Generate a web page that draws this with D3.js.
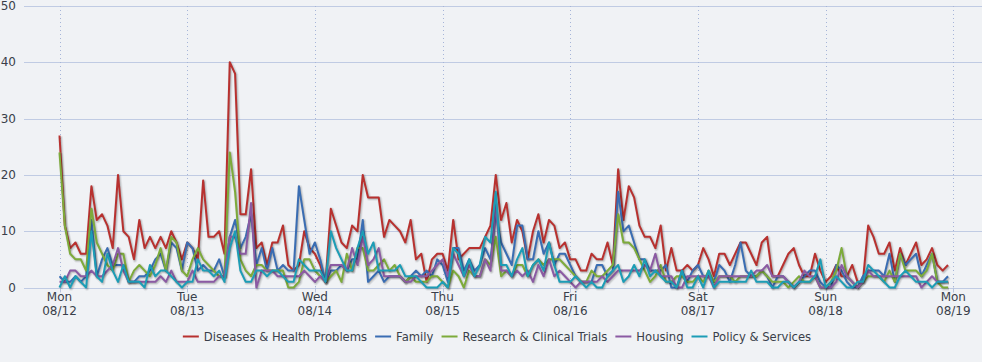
<!DOCTYPE html>
<meta charset="utf-8">
<style>

body {
  margin: 0;
  background: #f0f2f5;
}

svg {
  display: block;
  font-family: "DejaVu Sans", sans-serif;
}

.grid line {
  stroke: #c0cbe3;
  stroke-width: 1;
}

.vgrid line {
  stroke: #a6b5d8;
  stroke-dasharray: 1,3;
}

.line {
  fill: none;
  stroke-width: 2;
  stroke-linejoin: round;
}

.shadow {
  fill: none;
  stroke: #000;
  stroke-linejoin: round;
}

.label {
  fill: #3a3f4a;
  font-size: 12px;
}

</style>
<svg width="982" height="362"></svg>
<script src="https://d3js.org/d3.v7.min.js"></script>
<script>

var names = ["Diseases & Health Problems", "Family", "Research & Clinical Trials", "Housing", "Policy & Services"];
var colors = ["#b8312f", "#3a6db3", "#7dab3a", "#8b5aa3", "#1c9db6"];

var yTicks = [0, 10, 20, 30, 40, 50];

// hourly counts, Mon 08/12 00:00 .. Sun 08/18 23:00
var diseases = [
  27, 11, 7, 8, 6, 6, 18, 12, 13, 11, 7, 20, 10, 9, 5, 12, 7, 9, 7, 9, 7, 10, 8, 5,
  8, 7, 5, 19, 9, 9, 10, 6, 40, 38, 13, 13, 21, 7, 8, 4, 8, 8, 11, 4, 3, 4, 10, 7,
  6, 4, 1, 14, 11, 8, 7, 11, 10, 20, 16, 16, 16, 9, 12, 11, 10, 8, 12, 5, 6, 1, 5, 6,
  6, 3, 12, 5, 6, 7, 7, 7, 9, 11, 20, 12, 15, 8, 12, 10, 5, 10, 13, 8, 12, 11, 7, 8,
  5, 5, 3, 3, 6, 5, 5, 8, 4, 21, 12, 18, 16, 11, 9, 9, 7, 11, 3, 7, 3, 3, 4, 3,
  4, 7, 5, 2, 6, 6, 4, 6, 8, 8, 6, 4, 8, 9, 2, 2, 4, 6, 7, 4, 2, 2, 6, 3,
  1, 2, 4, 2, 2, 4, 1, 1, 11, 9, 6, 6, 8, 3, 7, 4, 6, 8, 4, 5, 7, 4, 3, 4
];
var family = [
  2, 1, 1, 2, 1, 2, 12, 2, 5, 7, 4, 4, 4, 1, 1, 2, 2, 3, 5, 6, 3, 8, 7, 3,
  8, 7, 3, 4, 3, 3, 5, 2, 9, 12, 7, 9, 13, 4, 7, 3, 7, 3, 4, 3, 3, 18, 12, 6,
  8, 5, 1, 3, 3, 4, 3, 5, 5, 12, 1, 2, 3, 1, 2, 2, 2, 1, 2, 3, 2, 3, 2, 5,
  4, 1, 7, 7, 3, 5, 3, 4, 7, 5, 13, 8, 6, 4, 11, 11, 5, 5, 10, 6, 8, 4, 6, 6,
  4, 2, 1, 1, 1, 4, 4, 2, 3, 17, 10, 11, 8, 5, 5, 3, 3, 3, 4, 0, 0, 3, 1, 3,
  4, 2, 2, 1, 4, 3, 1, 4, 8, 3, 2, 2, 3, 2, 0, 2, 2, 1, 0, 1, 2, 3, 3, 1,
  0, 0, 4, 3, 1, 0, 0, 2, 3, 3, 3, 2, 6, 1, 6, 4, 5, 6, 2, 4, 6, 1, 1, 2
];
var research = [
  24, 11, 6, 5, 5, 3, 14, 8, 6, 4, 3, 6, 6, 1, 3, 4, 3, 2, 4, 7, 3, 9, 8, 3,
  2, 5, 7, 5, 4, 3, 2, 2, 24, 17, 5, 3, 2, 4, 4, 3, 3, 3, 3, 0, 0, 1, 5, 5,
  3, 2, 1, 2, 3, 1, 6, 3, 7, 7, 3, 3, 4, 5, 3, 4, 2, 1, 2, 1, 1, 1, 2, 2,
  1, 0, 3, 2, 0, 3, 2, 2, 5, 4, 9, 2, 3, 2, 4, 4, 2, 4, 5, 4, 5, 5, 5, 4,
  3, 2, 1, 1, 3, 2, 2, 3, 4, 13, 8, 8, 7, 5, 3, 1, 2, 4, 1, 1, 2, 2, 1, 1,
  2, 1, 3, 1, 2, 2, 2, 1, 2, 2, 2, 2, 3, 2, 1, 1, 1, 0, 1, 2, 1, 1, 2, 0,
  0, 1, 3, 7, 2, 1, 0, 1, 2, 2, 2, 1, 3, 1, 6, 3, 3, 3, 2, 3, 6, 1, 0, 0
];
var housing = [
  1, 1, 3, 3, 2, 2, 3, 2, 2, 3, 4, 7, 3, 1, 1, 1, 1, 1, 1, 2, 1, 3, 1, 1,
  1, 3, 1, 1, 1, 1, 2, 2, 9, 9, 6, 6, 15, 0, 3, 3, 3, 2, 2, 2, 2, 2, 3, 2,
  1, 2, 1, 4, 4, 4, 3, 7, 4, 9, 4, 5, 7, 2, 2, 2, 2, 1, 1, 2, 2, 2, 3, 4,
  5, 2, 6, 4, 2, 4, 2, 2, 5, 3, 15, 3, 3, 2, 3, 2, 3, 1, 4, 2, 5, 2, 3, 2,
  1, 0, 1, 1, 1, 1, 2, 1, 2, 3, 3, 3, 3, 3, 4, 3, 6, 2, 2, 2, 0, 0, 2, 2,
  2, 2, 2, 0, 2, 2, 2, 2, 2, 2, 2, 3, 3, 4, 2, 2, 2, 1, 0, 1, 3, 2, 2, 0,
  0, 0, 1, 4, 2, 1, 0, 1, 3, 2, 2, 2, 2, 2, 2, 2, 2, 2, 0, 1, 2, 1, 1, 1
];
var policy = [
  0, 2, 0, 2, 1, 0, 10, 2, 1, 6, 3, 1, 4, 1, 1, 1, 0, 4, 2, 3, 3, 2, 1, 0,
  1, 1, 5, 3, 3, 2, 3, 1, 7, 10, 3, 1, 1, 3, 3, 2, 3, 3, 2, 1, 1, 5, 4, 3,
  3, 3, 1, 10, 7, 5, 3, 3, 7, 10, 6, 8, 3, 3, 3, 3, 4, 2, 2, 2, 1, 0, 0, 0,
  1, 0, 7, 6, 2, 5, 2, 4, 9, 8, 17, 4, 4, 2, 5, 7, 2, 4, 5, 3, 8, 4, 1, 1,
  1, 2, 1, 0, 1, 0, 0, 2, 3, 4, 1, 2, 4, 2, 5, 2, 3, 2, 1, 1, 0, 3, 0, 0,
  2, 0, 3, 0, 1, 1, 1, 1, 1, 1, 3, 1, 1, 1, 0, 0, 1, 1, 0, 1, 1, 1, 2, 5,
  0, 1, 2, 1, 0, 0, 1, 1, 4, 3, 2, 1, 0, 0, 2, 3, 2, 1, 1, 1, 0, 1, 1, 1
];

var allSeries = [diseases, family, research, housing, policy];

var start = new Date(2019, 7, 12),
    end = new Date(2019, 7, 19);

var svg = d3.select("svg"),
    width = +svg.attr("width"),
    height = +svg.attr("height");

var plotLeft = 24, plotRight = width, plotTop = 6, plotBottom = 287.5;

var x = d3.scaleTime()
    .domain([start, end])
    .range([59.5, 953.3]);

var y = d3.scaleLinear()
    .domain([0, 50])
    .range([plotBottom, plotTop]);

var days = d3.timeDay.range(start, d3.timeDay.offset(end, 1));

// horizontal grid
svg.append("g")
    .attr("class", "grid")
  .selectAll("line")
  .data(yTicks)
  .enter().append("line")
    .attr("x1", plotLeft)
    .attr("x2", plotRight)
    .attr("y1", function(d) { return Math.round(y(d)) + 0.5; })
    .attr("y2", function(d) { return Math.round(y(d)) + 0.5; });

// vertical dotted day lines
svg.append("g")
    .attr("class", "vgrid")
  .selectAll("line")
  .data(days)
  .enter().append("line")
    .attr("x1", function(d) { return Math.round(x(d)) + 0.5; })
    .attr("x2", function(d) { return Math.round(x(d)) + 0.5; })
    .attr("y1", plotTop)
    .attr("y2", plotBottom);

// y labels
svg.append("g")
  .selectAll("text")
  .data(yTicks)
  .enter().append("text")
    .attr("class", "label")
    .attr("x", 16)
    .attr("y", function(d) { return y(d) + 4; })
    .attr("text-anchor", "end")
    .text(function(d) { return d; });

// x axis ticks and labels
var xa = svg.append("g");

xa.selectAll("line")
  .data(days)
  .enter().append("line")
    .attr("x1", function(d) { return Math.round(x(d)) + 0.5; })
    .attr("x2", function(d) { return Math.round(x(d)) + 0.5; })
    .attr("y1", plotBottom)
    .attr("y2", plotBottom + 5)
    .attr("stroke", "#b8c5df");

var lab = xa.selectAll("text")
  .data(days)
  .enter().append("text")
    .attr("class", "label")
    .attr("text-anchor", "middle");

lab.append("tspan")
    .attr("x", function(d) { return x(d); })
    .attr("y", 301)
    .text(d3.timeFormat("%a"));

lab.append("tspan")
    .attr("x", function(d) { return x(d); })
    .attr("y", 315)
    .text(d3.timeFormat("%m/%d"));

// lines
var line = d3.line()
    .x(function(d, i) { return x(d3.timeHour.offset(start, i)); })
    .y(function(d) { return y(d); });

allSeries.forEach(function(values, k) {
  var g = svg.append("g");
  [[5, 0.05], [3, 0.1], [1, 0.15]].forEach(function(s) {
    g.append("path")
        .attr("class", "shadow")
        .attr("transform", "translate(1,1)")
        .attr("stroke-width", s[0])
        .attr("stroke-opacity", s[1])
        .attr("d", line(values));
  });
  g.append("path")
      .attr("class", "line")
      .attr("stroke", colors[k])
      .attr("d", line(values));
});

// legend
var legend = svg.append("g");

var items = legend.selectAll("g")
  .data(names)
  .enter().append("g");

items.append("line")
    .attr("x1", 0)
    .attr("x2", 16)
    .attr("y1", 0)
    .attr("y2", 0)
    .attr("stroke", function(d, i) { return colors[i]; })
    .attr("stroke-width", 2);

items.append("text")
    .attr("class", "label")
    .attr("x", 21)
    .attr("y", 4.5)
    .style("font-size", "11.6px")
    .text(function(d) { return d; });

var pos = 0;
items.each(function() {
  var w = this.getBBox().width;
  d3.select(this).attr("data-x", pos);
  pos += w + 8;
});
var total = pos - 8,
    left = (width - total) / 2 + 6;

items.attr("transform", function() {
  return "translate(" + (left + +this.getAttribute("data-x")) + ",336.5)";
});

</script>
